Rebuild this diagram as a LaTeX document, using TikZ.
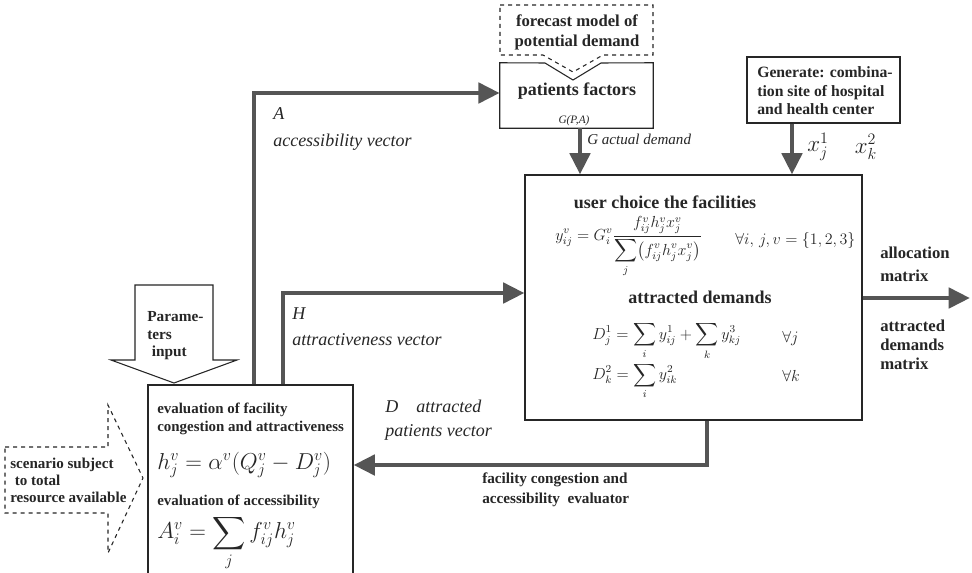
\documentclass[tikz,border=0pt]{standalone}
\usepackage{amsmath}
\usepackage{fontspec}
\setmainfont{Liberation Serif}
\usetikzlibrary{arrows.meta,fit}
\definecolor{ink}{HTML}{262626}
\definecolor{flowgray}{HTML}{555555}
\begin{document}
\begin{tikzpicture}[x=0.75pt,y=-0.75pt,
  boxst/.style={draw=black!85, line width=0.8pt, inner sep=0pt},
  area/.style={inner sep=0pt},
  bt/.style={text=ink, inner sep=0pt, font=\bfseries\fontsize{11.2}{13.5}\selectfont},
  btl/.style={text=ink, inner sep=0pt, font=\bfseries\fontsize{13.5}{15}\selectfont},
  itl/.style={text=ink, inner sep=0pt, font=\itshape\fontsize{13.5}{15}\selectfont},
  mth/.style={text=ink, inner sep=0pt, font=\fontsize{11.5}{14}\selectfont},
  mbig/.style={text=ink, inner sep=0pt, font=\fontsize{17.5}{20}\selectfont},
  conn/.style={draw=flowgray, line width=3.6pt, -{Triangle[length=16pt,width=15pt]}}
]
\clip (0,0) rectangle (972,572);
\fill[white] (0,0) rectangle (972,572);

% ---- boxes ----
\node[boxst, fit={(525,175)(862,420)}] (big) {};
\node[boxst, fit={(747,57)(900,123)}] (gen) {};
\node[boxst, fit={(148,385)(353,600)}] (lbox) {};
\node[area, fit={(500,63)(653,128)}] (pf) {};

% patients factors box with a notch in its top edge
\draw[black!85, line width=0.8pt]
  (pf.north west) -- (545,63) -- (573,80) -- (601,63) -- (pf.north east)
  -- (pf.south east) -- (pf.south west) -- cycle;
% dashed call-out pointing into it
\draw[black!85, line width=0.8pt, dashed]
  (500,5) -- (653,5) -- (653,55) -- (603,55) -- (573,72) -- (543,55) -- (500,55) -- cycle;

% block arrow: parameters input
\draw[black!85, line width=0.8pt]
  (135,285) -- (213,285) -- (213,360) -- (237,360) -- (174,383) -- (111,360) -- (135,360) -- cycle;
% dashed block arrow: scenario
\draw[black!85, line width=0.8pt, dashed]
  (5,447) -- (108,447) -- (108,405) -- (143,478) -- (108,553) -- (108,513) -- (5,513) -- cycle;

% ---- texts ----
\node[bt, font=\bfseries\fontsize{12.5}{15}\selectfont, align=center] (fcm) at (577,32) {forecast model of\\potential demand};
\node[btl] (pft) at (577,91) {patients factors};
\node[text=ink, inner sep=0pt, font=\itshape\fontsize{8.5}{9}\selectfont] (gpa) at (574,121) {G(P,A)};

\node[bt, align=left, anchor=west, font=\bfseries\fontsize{11.8}{13.9}\selectfont] (gent) at (757,91)
  {Generate: combina-\\tion site of hospital\\and health center};

\node[btl] (uc) at (665,202) {user choice the facilities};
\node[mth, anchor=west] (yeq) at (555,247)
  {$\displaystyle y_{ij}^{v}=G_{i}^{v}\frac{f_{ij}^{v}h_{j}^{v}x_{j}^{v}}{\displaystyle\sum_{j}\bigl(f_{ij}^{v}h_{j}^{v}x_{j}^{v}\bigr)}$};
\node[mth, anchor=west] (fa1) at (735,240) {$\forall i,\, j, v=\{1,2,3\}$};
\node[btl] (ad) at (700,297) {attracted demands};
\node[mth, anchor=west] (d1) at (592,341) {$\displaystyle D_{j}^{1}=\sum_{i}y_{ij}^{1}+\sum_{k}y_{kj}^{3}$};
\node[mth, anchor=west] (fa2) at (782,338) {$\forall j$};
\node[mth, anchor=west] (d2) at (592,381) {$\displaystyle D_{k}^{2}=\sum_{i}y_{ik}^{2}$};
\node[mth, anchor=west] (fa3) at (782,376) {$\forall k$};

\node[bt, align=left, anchor=west] (evf) at (157,419) {evaluation of facility\\congestion and attractiveness};
\node[mbig, anchor=west] (heq) at (157,465) {$h_{j}^{v}=\alpha^{v}(Q_{j}^{v}-D_{j}^{v})$};
\node[bt, anchor=west] (eva) at (157,502) {evaluation of accessibility};
\node[mbig, anchor=west, font=\fontsize{16.5}{19}\selectfont] (aeq) at (157,543) {$\displaystyle A_{i}^{v}=\sum_{j}f_{ij}^{v}h_{j}^{v}$};

\node[bt, align=left, anchor=west, font=\bfseries\fontsize{11.3}{12.75}\selectfont] (scn) at (10,480)
  {scenario subject\\\hspace{0.3em}to total\\resource available};
\node[bt, align=left, anchor=west, font=\bfseries\fontsize{11.5}{13.2}\selectfont] (par) at (147,336)
  {Parame-\\ters\\\hspace{0.3em}input};

\node[bt, align=left, anchor=west, font=\bfseries\fontsize{12.5}{17}\selectfont] (alm) at (880,264) {allocation\\matrix};
\node[bt, align=left, anchor=west, font=\bfseries\fontsize{12.5}{14.2}\selectfont] (adm) at (880,345) {attracted\\demands\\matrix};

\node[itl, anchor=west] (al) at (273,114) {A};
\node[itl, anchor=west] (av) at (273,142) {accessibility vector};
\node[itl, anchor=west] (hl) at (292,314) {H};
\node[itl, anchor=west] (hv) at (292,340) {attractiveness vector};
\node[itl, anchor=west, font=\itshape\fontsize{11.3}{12}\selectfont] (gad) at (587,139) {G actual demand};
\node[itl, anchor=west] (dl) at (385,406) {D\quad attracted};
\node[itl, anchor=west] (dv) at (385,432) {patients vector};
\node[bt, align=left, anchor=west, font=\bfseries\fontsize{11.4}{15}\selectfont] (fce) at (482,490)
  {facility congestion and\\accessibility\ \ evaluator};

\node[mbig, font=\fontsize{17}{19}\selectfont] (xj) at (818,147) {$x_{j}^{1}$};
\node[mbig, font=\fontsize{17}{19}\selectfont] (xk) at (866,147) {$x_{k}^{2}$};

% ---- connectors ----
\coordinate (ax) at (254,93);
\coordinate (hx) at (283,293);
\coordinate (gd) at (580,150);
\coordinate (gx) at (792,140);
\coordinate (outx) at (970,298);
\coordinate (fb) at (707,465);

\draw[conn] (lbox.north -| ax) -- (ax) -- (ax -| pf.west);
\draw[conn] (lbox.north -| hx) -- (hx) -- (hx -| big.west);
\draw[conn] (pf.south -| gd) -- (gd |- big.north);
\draw[conn] (gen.south -| gx) -- (gx |- big.north);
\draw[conn] (big.east |- outx) -- (outx);
\draw[conn] (big.south -| fb) -- (fb) -- (fb -| lbox.east);
\end{tikzpicture}
\end{document}
